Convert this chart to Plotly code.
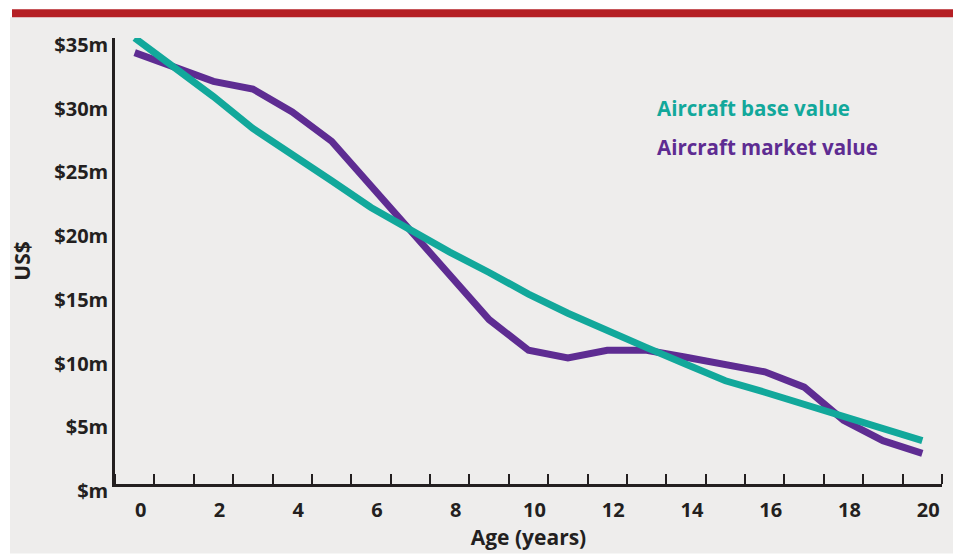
import plotly.graph_objects as go

# Aircraft age in years
age = list(range(0, 21))

# Values in US$ millions
base_value = [35.0, 32.7, 30.4, 27.9, 25.9, 23.8, 21.7, 19.9, 18.2, 16.6, 14.9,
              13.4, 12.0, 10.7, 9.4, 8.1, 7.2, 6.25, 5.3, 4.45, 3.4]
market_value = [33.85, 32.7, 31.6, 31.0, 29.2, 26.9, 23.4, 19.9, 16.3, 12.9, 10.5,
                9.9, 10.5, 10.5, 9.95, 9.4, 8.8, 7.6, 5.0, 3.4, 2.4]

series_names = ["Aircraft base value", "Aircraft market value"]

x_tick_vals = list(range(0, 21, 2))
x_tick_text = [str(v) for v in x_tick_vals]
y_tick_vals = [0, 5, 10, 15, 20, 25, 30, 35]
y_tick_text = ["$m", "$5m", "$10m", "$15m", "$20m", "$25m", "$30m", "$35m"]

TEAL = "#12A89B"
PURPLE = "#5E2C92"
RED = "#B51F24"
PANEL = "#EEEDEC"
INK = "#231F20"
FONT = "Open Sans"

W, H = 958, 557
ML, MR, MT, MB = 115, 16, 38, 70
PW, PH = W - ML - MR, H - MT - MB


def px_x(p):
    return (p - ML) / PW


def px_y(p):
    return (H - MB - p) / PH


fig = go.Figure()

fig.add_trace(go.Scatter(
    x=age, y=market_value, mode="lines", name=series_names[1],
    line=dict(color=PURPLE, width=7), showlegend=False,
))
fig.add_trace(go.Scatter(
    x=age, y=base_value, mode="lines", name=series_names[0],
    line=dict(color=TEAL, width=7), showlegend=False,
))

# Grey panel and red header bar
fig.add_shape(type="rect", xref="paper", yref="paper",
              x0=px_x(10), x1=px_x(953), y0=px_y(557), y1=px_y(17),
              fillcolor=PANEL, line=dict(width=0), layer="below")
fig.add_shape(type="rect", xref="paper", yref="paper",
              x0=px_x(12), x1=px_x(953), y0=px_y(17), y1=px_y(9),
              fillcolor=RED, line=dict(width=0), layer="below")

# Series labels
for i, (name, color) in enumerate(zip(series_names, [TEAL, PURPLE])):
    fig.add_annotation(
        xref="paper", yref="paper", x=px_x(655), y=px_y(108 + 40 * i),
        xanchor="left", yanchor="middle", text=f"<b>{name}</b>",
        showarrow=False, font=dict(family=FONT, size=20.5, color=color),
    )

fig.update_layout(
    width=W, height=H,
    margin=dict(l=ML, r=MR, t=MT, b=MB),
    paper_bgcolor="white",
    plot_bgcolor=PANEL,
    font=dict(family=FONT, color=INK),
    xaxis=dict(
        range=[-0.5, 20.5],
        tickvals=x_tick_vals,
        ticktext=[f"<b>{t}</b>" for t in x_tick_text],
        ticks="",
        ticklabelstandoff=6,
        ticklabelshift=6,
        tickfont=dict(family=FONT, size=20, color=INK),
        minor=dict(tickvals=[v - 0.5 for v in range(0, 22)], ticks="inside",
                   ticklen=10, tickwidth=2, tickcolor=INK, showgrid=False),
        showline=True, linecolor=INK, linewidth=2.5,
        showgrid=False, zeroline=False,
        title=dict(text="<b>Age (years)</b>", standoff=8,
                   font=dict(family=FONT, size=21, color=INK)),
    ),
    yaxis=dict(
        range=[0, 35],
        tickvals=y_tick_vals,
        ticktext=[f"<b>{t}</b>" for t in y_tick_text],
        ticks="",
        ticklabelstandoff=0,
        ticklabelshift=7,
        tickfont=dict(family=FONT, size=20, color=INK),
        showline=True, linecolor=INK, linewidth=2.5, mirror=False,
        showgrid=False, zeroline=False,
        title=dict(text="<b>US$</b>", standoff=18,
                   font=dict(family=FONT, size=21, color=INK)),
    ),
)

fig.write_html("out.html")
